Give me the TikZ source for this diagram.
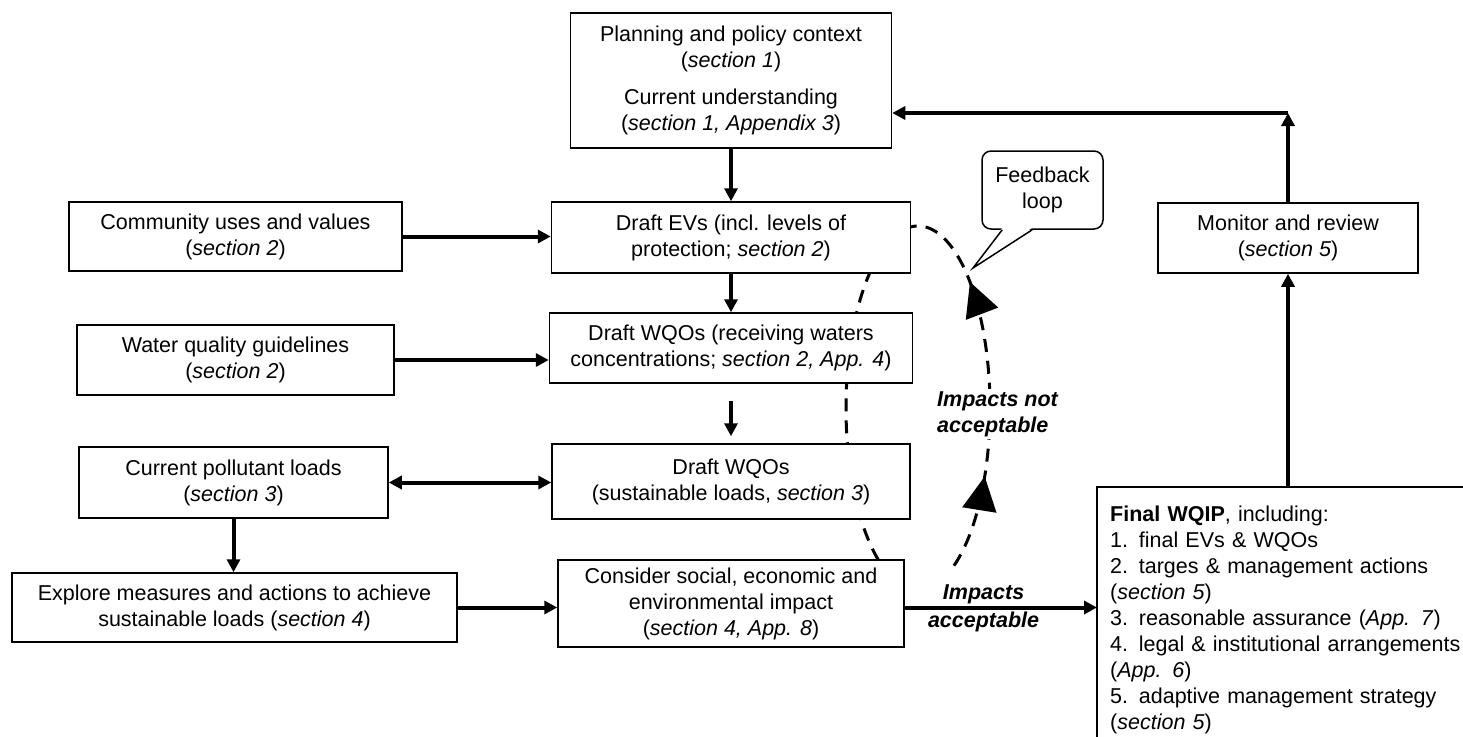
\documentclass[tikz,border=0pt]{standalone}
\usepackage{fontspec}
\setmainfont{Liberation Sans}
\usetikzlibrary{arrows.meta,calc,decorations.markings}
\tikzset{
  stepbox/.style={draw, line width=1.5pt, fill=white, align=center, inner sep=2pt, font=\fontsize{21.5}{26}\selectfont},
  impact/.style={inner sep=2pt, font=\fontsize{21.5}{26}\selectfont\bfseries\itshape},
  flow/.style={line width=4pt, -{Triangle[length=13pt,width=13pt]}},
  flowboth/.style={line width=4pt, {Triangle[length=13pt,width=13pt]}-{Triangle[length=13pt,width=13pt]}},
  loopline/.style={line width=3pt, dash pattern=on 13pt off 9pt, postaction={decorate},
    decoration={markings,
      mark=at position 95pt with {\arrow{Triangle[length=34pt,width=34pt]}},
      mark=at position 292pt with {\arrow{Triangle[length=34pt,width=34pt]}}}},
}
\begin{document}
\begin{tikzpicture}[x=1pt,y=1pt,yscale=-1,xscale=1]
\useasboundingbox (0,0) rectangle (1463,736);
%Curve: dashed feedback loop
\draw[loopline] (954,565.6) arc[start angle=60, end angle=-254, x radius=72, y radius=182];
%Shape: Rectangle
\node[stepbox, minimum width=321pt, minimum height=135pt] (ctx) at (731,80.5) {Planning and policy context\\(\textit{section 1})\\[11pt]Current understanding\\(\textit{section 1, Appendix 3})};
\node[stepbox, minimum width=333pt, minimum height=69pt] (comm) at (235.5,236.5) {Community uses and values\\(\textit{section 2})};
\node[stepbox, minimum width=359pt, minimum height=71pt] (evs) at (731,237.5) {Draft EVs (incl. levels of\\protection; \textit{section 2})};
\node[stepbox, minimum width=260pt, minimum height=70pt] (mon) at (1288,238) {Monitor and review\\(\textit{section 5})};
\node[stepbox, minimum width=317pt, minimum height=70pt] (wqg) at (235.5,360) {Water quality guidelines\\(\textit{section 2})};
\node[stepbox, minimum width=363pt, minimum height=70pt] (wqo1) at (731,348) {Draft WQOs (receiving waters\\concentrations; \textit{section 2, App. 4})};
\node[stepbox, minimum width=309pt, minimum height=71pt] (cpl) at (233.5,482.5) {Current pollutant loads\\(\textit{section 3})};
\node[stepbox, minimum width=358pt, minimum height=75pt] (wqo2) at (731,481.5) {Draft WQOs\\(sustainable loads, \textit{section 3})};
\node[stepbox, minimum width=445pt, minimum height=69pt] (expl) at (234.5,607.5) {Explore measures and actions to achieve\\sustainable loads (\textit{section 4})};
\node[stepbox, minimum width=346pt, minimum height=87pt] (cons) at (731,603.5) {Consider social, economic and\\environmental impact\\(\textit{section 4, App. 8})};
%Shape: Rectangle (runs off the page)
\draw[line width=1.5pt] (1097,487) rectangle (1490,760);
% Text Node
\node[anchor=north west, align=left, text width=420pt, inner xsep=13pt, inner ysep=19pt, font=\fontsize{21.5}{26}\selectfont] (final) at (1097,487) {\textbf{Final WQIP}, including:\\1. final EVs \& WQOs\\2. targes \& management actions\\(\textit{section 5})\\3. reasonable assurance (\textit{App. 7})\\4. legal \& institutional arrangements\\(\textit{App. 6})\\5. adaptive management strategy\\(\textit{section 5})};
%Shape: Callout
\node[draw, line width=1.5pt, rounded corners=9pt, fill=white, align=center, minimum width=121pt, minimum height=78pt, font=\fontsize{21.5}{26}\selectfont] (fb) at (1042.5,190) {Feedback\\loop};
\coordinate (fbtip) at (973,268);
\fill[white] ($(fb.south west)+(21,-2)$) -- (fbtip) -- ($(fb.south west)+(51,-2)$) -- cycle;
\draw[line width=1.5pt] ($(fb.south west)+(21,0)$) -- (fbtip) -- ($(fb.south west)+(51,0)$);
% Text Node
\node[impact, fill=white, align=left, anchor=west] (nacc) at (935,414) {Impacts not\\acceptable};
%Straight Lines
\draw[flow] (ctx.south) -- (evs.north);
\draw[flow] (evs.south) -- (wqo1.north);
\draw[flow, shorten <=17pt, shorten >=7pt] (wqo1.south) -- (wqo2.north);
\draw[flow] (comm.east) -- (evs.west |- comm.east);
\draw[flow] (wqg.east) -- (wqo1.west |- wqg.east);
\draw[flowboth] (cpl.east) -- (wqo2.west |- cpl.east);
\draw[flow] (cpl.south) -- (cpl.south |- expl.north);
\draw[flow] (expl.east) -- (cons.west |- expl.east);
\draw[flow] ($(cons.east)+(0,4)$) -- ($(1097,0 |- cons.east)+(0,4)$)
  node[impact, pos=0.41, above] (acc1) {Impacts}
  node[impact, pos=0.41, below] (acc2) {acceptable};
\draw[flow] (mon.south |- final.north) -- (mon.south);
\coordinate (turn) at (1288,113);
\draw[flow] (mon.north) -- (turn);
\draw[flow] (turn) -- (ctx.east |- turn);
\end{tikzpicture}
\end{document}
